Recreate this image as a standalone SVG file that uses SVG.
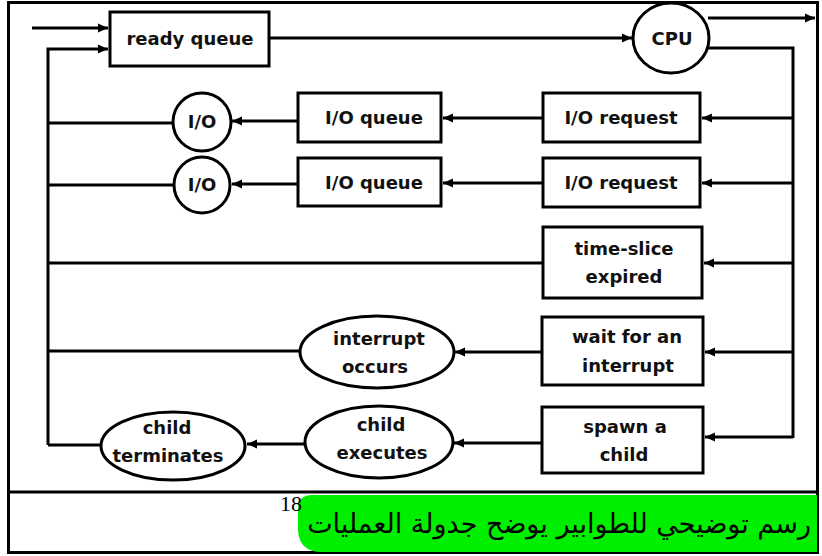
<svg xmlns="http://www.w3.org/2000/svg" width="822" height="556" viewBox="0 0 822 556">
  <style>
    .box { fill: #ffffff; stroke: #000000; stroke-width: 3; }
    .line { fill: none; stroke: #000000; stroke-width: 3; }
    .lbl { font-family: "DejaVu Sans", "Liberation Sans", sans-serif; font-weight: bold; font-size: 18px; fill: #111111; text-anchor: middle; }
    .frame { fill: none; stroke: #000000; stroke-width: 3; }
  </style>
  <defs>
    <marker id="arrow" markerUnits="userSpaceOnUse" markerWidth="12" markerHeight="12" refX="10" refY="6" orient="auto">
      <path d="M0,1.5 L10,6 L0,10.5 Z" fill="#000000"/>
    </marker>
  </defs>

  <rect x="0" y="0" width="822" height="556" fill="#ffffff"/>

  <!-- outer frame and caption divider -->
  <rect class="frame" x="8.5" y="2.5" width="809" height="550"/>
  <line class="frame" x1="8" y1="492" x2="818" y2="492"/>

  <!-- connectors -->
  <g id="connectors">
    <!-- entry into ready queue -->
    <line class="line" x1="32" y1="28" x2="108" y2="28" marker-end="url(#arrow)"/>
    <polyline class="line" points="48,445 48,49 108,49" marker-end="url(#arrow)"/>
    <!-- ready queue to CPU -->
    <line class="line" x1="269" y1="38" x2="632" y2="38" marker-end="url(#arrow)"/>
    <!-- CPU exits -->
    <line class="line" x1="708" y1="18" x2="815" y2="18" marker-end="url(#arrow)"/>
    <polyline class="line" points="707,48 793,48 793,438"/>
    <!-- bus to each event box -->
    <line class="line" x1="793" y1="118" x2="702" y2="118" marker-end="url(#arrow)"/>
    <line class="line" x1="793" y1="183" x2="702" y2="183" marker-end="url(#arrow)"/>
    <line class="line" x1="793" y1="263" x2="704" y2="263" marker-end="url(#arrow)"/>
    <line class="line" x1="793" y1="352" x2="705" y2="352" marker-end="url(#arrow)"/>
    <line class="line" x1="793" y1="437" x2="705" y2="437" marker-end="url(#arrow)"/>
    <!-- I/O rows -->
    <line class="line" x1="543" y1="118" x2="443" y2="118" marker-end="url(#arrow)"/>
    <line class="line" x1="298" y1="121" x2="232" y2="121" marker-end="url(#arrow)"/>
    <line class="line" x1="173" y1="123" x2="48" y2="123"/>
    <line class="line" x1="543" y1="183" x2="443" y2="183" marker-end="url(#arrow)"/>
    <line class="line" x1="298" y1="184" x2="232" y2="184" marker-end="url(#arrow)"/>
    <line class="line" x1="174" y1="185" x2="48" y2="185"/>
    <!-- time slice -->
    <line class="line" x1="543" y1="263" x2="48" y2="263"/>
    <!-- interrupt -->
    <line class="line" x1="542" y1="352" x2="455" y2="352" marker-end="url(#arrow)"/>
    <line class="line" x1="299" y1="351" x2="48" y2="351"/>
    <!-- child -->
    <line class="line" x1="542" y1="443" x2="454" y2="443" marker-end="url(#arrow)"/>
    <line class="line" x1="305" y1="444" x2="247" y2="444" marker-end="url(#arrow)"/>
    <line class="line" x1="100" y1="445" x2="48" y2="445"/>
  </g>

  <g id="ready-queue">
    <rect class="box" x="110" y="12" width="159" height="54"/>
    <text class="lbl" x="190" y="45">ready queue</text>
  </g>

  <g id="cpu">
    <ellipse class="box" cx="671" cy="38" rx="38" ry="35"/>
    <text class="lbl" x="672" y="45">CPU</text>
  </g>

  <g id="io-request-1">
    <rect class="box" x="543" y="93" width="157" height="49"/>
    <text class="lbl" x="621" y="124">I/O request</text>
  </g>
  <g id="io-queue-1">
    <rect class="box" x="298" y="93" width="143" height="49"/>
    <text class="lbl" x="374" y="124">I/O queue</text>
  </g>
  <g id="io-device-1">
    <circle class="box" cx="202" cy="122" r="29"/>
    <text class="lbl" x="202" y="128">I/O</text>
  </g>

  <g id="io-request-2">
    <rect class="box" x="543" y="158" width="157" height="49"/>
    <text class="lbl" x="621" y="189">I/O request</text>
  </g>
  <g id="io-queue-2">
    <rect class="box" x="298" y="158" width="143" height="48"/>
    <text class="lbl" x="374" y="189">I/O queue</text>
  </g>
  <g id="io-device-2">
    <circle class="box" cx="202" cy="185" r="28"/>
    <text class="lbl" x="202" y="191">I/O</text>
  </g>

  <g id="time-slice">
    <rect class="box" x="543" y="227" width="159" height="71"/>
    <text class="lbl" x="624" y="255">time-slice</text>
    <text class="lbl" x="624" y="283">expired</text>
  </g>

  <g id="wait-interrupt">
    <rect class="box" x="542" y="317" width="161" height="68"/>
    <text class="lbl" x="627" y="343">wait for an</text>
    <text class="lbl" x="628" y="372">interrupt</text>
  </g>
  <g id="interrupt-occurs">
    <ellipse class="box" cx="377" cy="352" rx="77" ry="36"/>
    <text class="lbl" x="379" y="345">interrupt</text>
    <text class="lbl" x="375" y="373">occurs</text>
  </g>

  <g id="spawn-child">
    <rect class="box" x="542" y="407" width="161" height="66"/>
    <text class="lbl" x="625" y="433">spawn a</text>
    <text class="lbl" x="624" y="461">child</text>
  </g>
  <g id="child-executes">
    <ellipse class="box" cx="379" cy="442" rx="74" ry="36"/>
    <text class="lbl" x="381" y="431">child</text>
    <text class="lbl" x="382" y="459">executes</text>
  </g>
  <g id="child-terminates">
    <ellipse class="box" cx="173" cy="446" rx="72" ry="34"/>
    <text class="lbl" x="167" y="434">child</text>
    <text class="lbl" x="168" y="462">terminates</text>
  </g>

  <!-- caption -->
  <g id="caption">
    <path d="M312,495 H817 V552 H322 Q298,552 298,528 V509 Q298,495 312,495 Z" fill="#00ee00"/>
    <text x="291" y="511" font-family="'Liberation Serif', serif" font-size="22" text-anchor="middle" fill="#000000">18</text>
    <text x="811" y="533" font-family="'DejaVu Sans', serif" font-size="27" direction="rtl" text-anchor="start" fill="#000000">رسم توضيحي للطوابير يوضح جدولة العمليات</text>
  </g>
</svg>
